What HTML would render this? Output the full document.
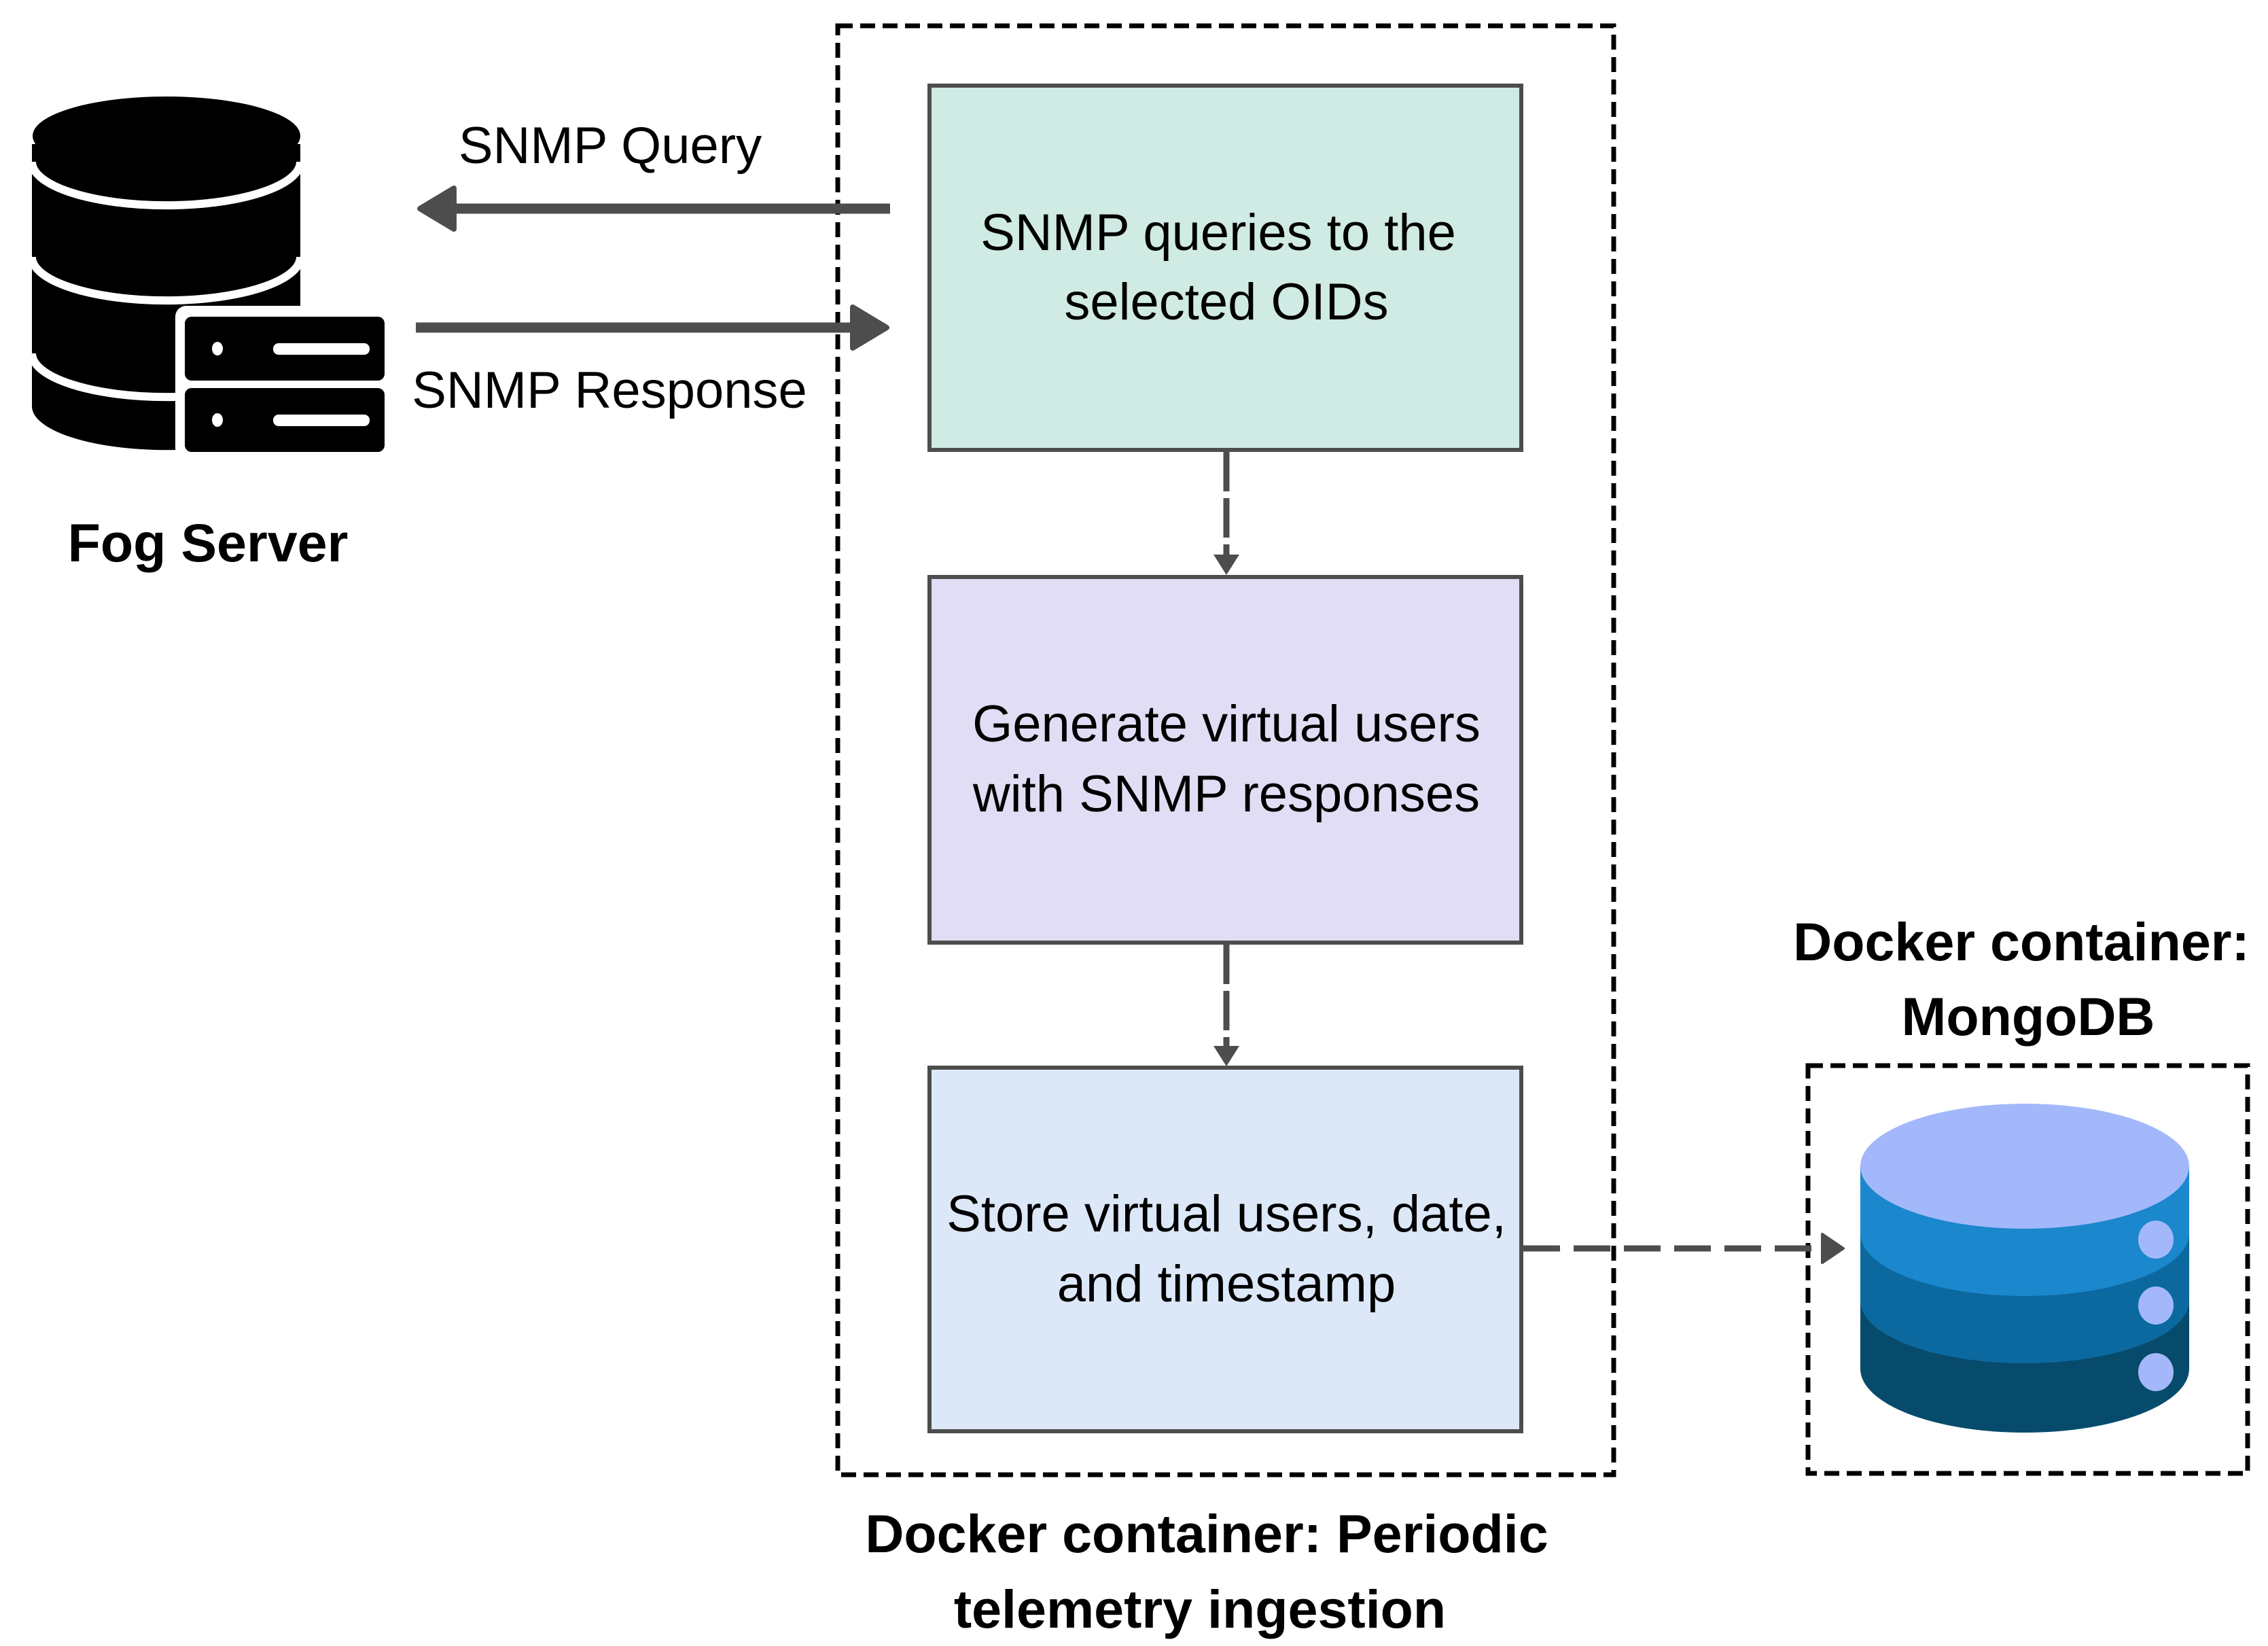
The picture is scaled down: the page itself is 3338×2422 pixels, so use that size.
<!DOCTYPE html>
<html><head><meta charset="utf-8"><style>
html,body{margin:0;padding:0;background:#fff;}
svg{display:block;}
text{font-family:"Liberation Sans",sans-serif;}
</style></head><body>
<svg width="3338" height="2422" viewBox="0 0 3338 2422" xmlns="http://www.w3.org/2000/svg">
<!-- outer dashed container -->
<rect x="1233" y="38" width="1142" height="2132" fill="none" stroke="#000" stroke-width="7" stroke-dasharray="22,11"/>
<!-- mongo dashed -->
<rect x="2661" y="1568" width="647" height="600" fill="none" stroke="#000" stroke-width="7" stroke-dasharray="22,11"/>

<!-- boxes -->
<rect x="1368" y="126" width="871" height="536" fill="#d0eae4" stroke="#4d4d4d" stroke-width="6"/>
<rect x="1368" y="849" width="871" height="538" fill="#e1ddf4" stroke="#4d4d4d" stroke-width="6"/>
<rect x="1368" y="1571" width="871" height="535" fill="#dce8f8" stroke="#4d4d4d" stroke-width="6"/>

<g font-size="76" text-anchor="middle" fill="#000">
<text x="1793" y="368">SNMP queries to the</text>
<text x="1805" y="470">selected OIDs</text>
<text x="1805" y="1091">Generate virtual users</text>
<text x="1805" y="1194">with SNMP responses</text>
<text x="1805" y="1812">Store virtual users, date,</text>
<text x="1805" y="1915">and timestamp</text>
<text x="898" y="240">SNMP Query</text>
<text x="897" y="600">SNMP Response</text>
</g>
<g font-size="79" font-weight="bold" text-anchor="middle" fill="#000">
<text x="306" y="826">Fog Server</text>
<text x="2975" y="1413">Docker container:</text>
<text x="2985" y="1523">MongoDB</text>
<text x="1776" y="2284">Docker container: Periodic</text>
<text x="1766" y="2395">telemetry ingestion</text>
</g>

<!-- solid arrows -->
<line x1="1310" y1="307" x2="660" y2="307" stroke="#4d4d4d" stroke-width="15"/>
<path d="M668,277 L618,307 L668,337 z" fill="#4d4d4d" stroke="#4d4d4d" stroke-width="8" stroke-linejoin="round"/>
<line x1="612" y1="482" x2="1260" y2="482" stroke="#4d4d4d" stroke-width="15"/>
<path d="M1255,452 L1305,482 L1255,512 z" fill="#4d4d4d" stroke="#4d4d4d" stroke-width="8" stroke-linejoin="round"/>

<!-- dashed connectors -->
<line x1="1805" y1="665" x2="1805" y2="820" stroke="#4d4d4d" stroke-width="9" stroke-dasharray="58,10"/>
<path d="M1786,816 L1824,816 L1805,846 z" fill="#4d4d4d"/>
<line x1="1805" y1="1390" x2="1805" y2="1543" stroke="#4d4d4d" stroke-width="9" stroke-dasharray="58,10"/>
<path d="M1786,1539 L1824,1539 L1805,1569 z" fill="#4d4d4d"/>
<line x1="2242" y1="1837" x2="2690" y2="1837" stroke="#4d4d4d" stroke-width="9" stroke-dasharray="54,20"/>
<path d="M2682,1816 L2682,1858 L2713,1837 z" fill="#4d4d4d" stroke="#4d4d4d" stroke-width="4" stroke-linejoin="round"/>

<!-- mongo cylinder -->
<path d="M2738,1716 L2738,2014 A242,94 0 0 0 3222,2014 L3222,1716 z" fill="#074b6c"/>
<path d="M2738,1716 L2738,1914 A242,92 0 0 0 3222,1914 L3222,1716 z" fill="#0b69a0"/>
<path d="M2738,1716 L2738,1815 A242,92 0 0 0 3222,1815 L3222,1716 z" fill="#1b87cd"/>
<ellipse cx="2980" cy="1716" rx="242" ry="92" fill="#a3b8fa"/>
<ellipse cx="3173" cy="1824" rx="26" ry="28" fill="#a3b8fa"/>
<ellipse cx="3173" cy="1921" rx="26" ry="28" fill="#a3b8fa"/>
<ellipse cx="3173" cy="2019" rx="26" ry="28" fill="#a3b8fa"/>

<!-- fog server icon -->
<g>
<path d="M47,212 L47,598 A197,64 0 0 0 442,598 L442,212 z" fill="#000"/>
<ellipse cx="245" cy="200" rx="197" ry="58" fill="#000"/>
<path d="M47,238 A197,64 0 0 0 442,238" fill="none" stroke="#fff" stroke-width="12"/>
<path d="M47,378 A197,64 0 0 0 442,378" fill="none" stroke="#fff" stroke-width="12"/>
<path d="M47,520 A197,64 0 0 0 442,520" fill="none" stroke="#fff" stroke-width="12"/>
<rect x="258" y="450" width="320" height="225" rx="16" fill="#fff"/>
<rect x="272" y="466" width="294" height="94" rx="10" fill="#000"/>
<rect x="272" y="571" width="294" height="94" rx="10" fill="#000"/>
<ellipse cx="320" cy="513" rx="8" ry="10" fill="#fff"/>
<ellipse cx="320" cy="618" rx="8" ry="10" fill="#fff"/>
<rect x="402" y="505" width="142" height="17" rx="8" fill="#fff"/>
<rect x="402" y="610" width="142" height="17" rx="8" fill="#fff"/>
</g>
</svg>
</body></html>
